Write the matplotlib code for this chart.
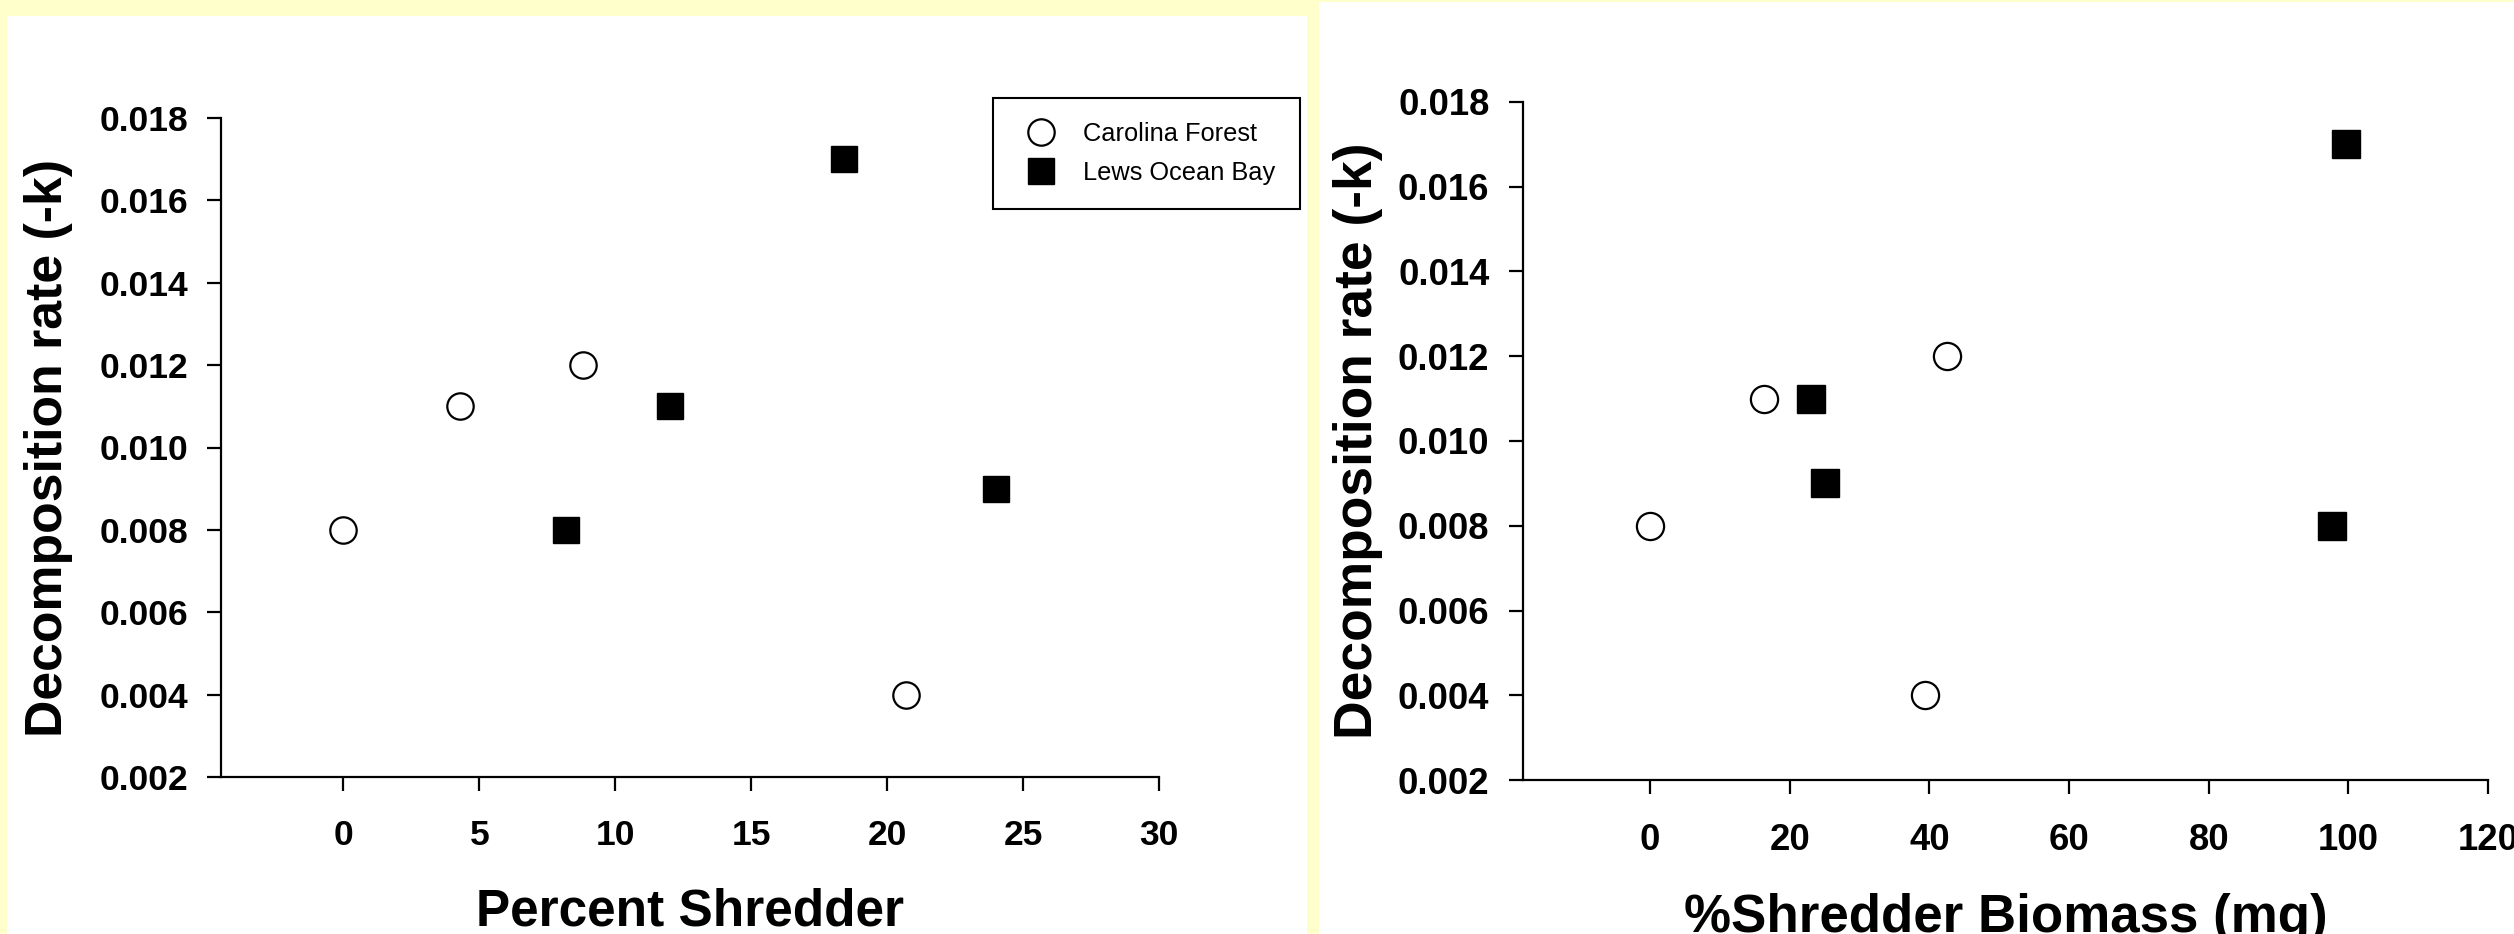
import matplotlib
matplotlib.use('Agg')
import matplotlib.pyplot as plt
from matplotlib.patches import Rectangle
from matplotlib.ticker import FormatStrFormatter

# data
cf_pct = [0, 4.3, 8.8, 20.7]
cf_pct_k = [0.008, 0.011, 0.012, 0.004]
lob_pct = [8.2, 12.0, 18.4, 24.0]
lob_pct_k = [0.008, 0.011, 0.017, 0.009]

cf_bio = [0, 16.3, 42.5, 39.4]
cf_bio_k = [0.008, 0.011, 0.012, 0.004]
lob_bio = [23.1, 25.0, 97.7, 99.7]
lob_bio_k = [0.011, 0.009, 0.008, 0.017]

site_names = ['Carolina Forest', 'Lews Ocean Bay']
yticks = [0.002, 0.004, 0.006, 0.008, 0.010, 0.012, 0.014, 0.016, 0.018]
xticks_pct = [0, 5, 10, 15, 20, 25, 30]
xticks_bio = [0, 20, 40, 60, 80, 100, 120]

W, H = 2514, 934
fig = plt.figure(figsize=(W/100, H/100), dpi=100, facecolor='#ffffcc')

def px_rect(x0, y0, x1, y1):
    # pixel box (top-left origin) -> figure fraction [l, b, w, h]
    return [x0/W, 1-y1/H, (x1-x0)/W, (y1-y0)/H]

# white panels behind each graph
for box in [px_rect(7, 16, 1307, 934), px_rect(1319, 2, 2514, 934)]:
    fig.add_artist(Rectangle((box[0], box[1]), box[2], box[3], transform=fig.transFigure,
                             facecolor='white', edgecolor='none', zorder=-5))

fnt = 'Liberation Sans'

def setup(ax, xlim, xticks, xlabel, xlab_y, ylab_x, sc):
    # sc: the right panel is a slightly enlarged copy of the left one
    ax.set_facecolor('none')
    ax.set_ylim(0.002, 0.018)
    ax.set_xlim(*xlim)
    ax.set_yticks(yticks)
    ax.set_xticks(xticks)
    ax.yaxis.set_major_formatter(FormatStrFormatter('%.3f'))
    for s in ['top', 'right']:
        ax.spines[s].set_visible(False)
    for s in ['left', 'bottom']:
        ax.spines[s].set_linewidth(1.6)
    ax.spines['bottom'].set_bounds(xlim[0], xticks[-1])
    ax.tick_params(axis='both', direction='out', length=10*sc, width=1.6, labelsize=25.5*sc)
    ax.tick_params(axis='x', pad=20*sc)
    ax.tick_params(axis='y', pad=13.5*sc)
    for lab in ax.get_xticklabels() + ax.get_yticklabels():
        lab.set_fontfamily(fnt)
        lab.set_fontweight('bold')
    ax.set_xlabel(xlabel, fontsize=37*sc, fontweight='bold', fontfamily=fnt)
    ax.set_ylabel('Decomposition rate (-k)', fontsize=37.3*sc, fontweight='bold', fontfamily=fnt)
    ax.xaxis.set_label_coords(0.5, xlab_y)
    ax.yaxis.label.set_va('center')
    ax.yaxis.set_label_coords(ylab_x, 0.5)

def points(ax, xc, yc, xl, yl, sc):
    a, = ax.plot(xc, yc, 'o', ms=19*sc, mfc='white', mec='black', mew=1.6, ls='none', clip_on=False, zorder=3)
    b, = ax.plot(xl, yl, 's', ms=19*sc, mfc='black', mec='black', mew=1, ls='none', clip_on=False, zorder=3)
    return a, b

ax1 = fig.add_axes(px_rect(221, 118, 1159, 777))
h = points(ax1, cf_pct, cf_pct_k, lob_pct, lob_pct_k, 1.0)
setup(ax1, (-4.5, 30), xticks_pct, 'Percent Shredder', -0.167, -0.1834, 1.0)
leg = ax1.legend(h, site_names, loc='upper left', bbox_to_anchor=(993/W, 1-98/H),
                 bbox_transform=fig.transFigure, borderaxespad=0,
                 prop={'family': fnt, 'size': 18.3}, numpoints=1, fancybox=False,
                 framealpha=1, edgecolor='black', borderpad=0.95, labelspacing=0.57,
                 handlelength=1.9, handletextpad=0.7)
leg.get_frame().set_linewidth(1.5)

ax2 = fig.add_axes(px_rect(1523, 102, 2488, 780))
points(ax2, cf_bio, cf_bio_k, lob_bio, lob_bio_k, 1.03)
setup(ax2, (-18.2, 120), xticks_bio, '%Shredder Biomass (mg)', -0.1667, -0.171, 1.03)

fig.savefig('out.png', dpi=100, facecolor=fig.get_facecolor())
